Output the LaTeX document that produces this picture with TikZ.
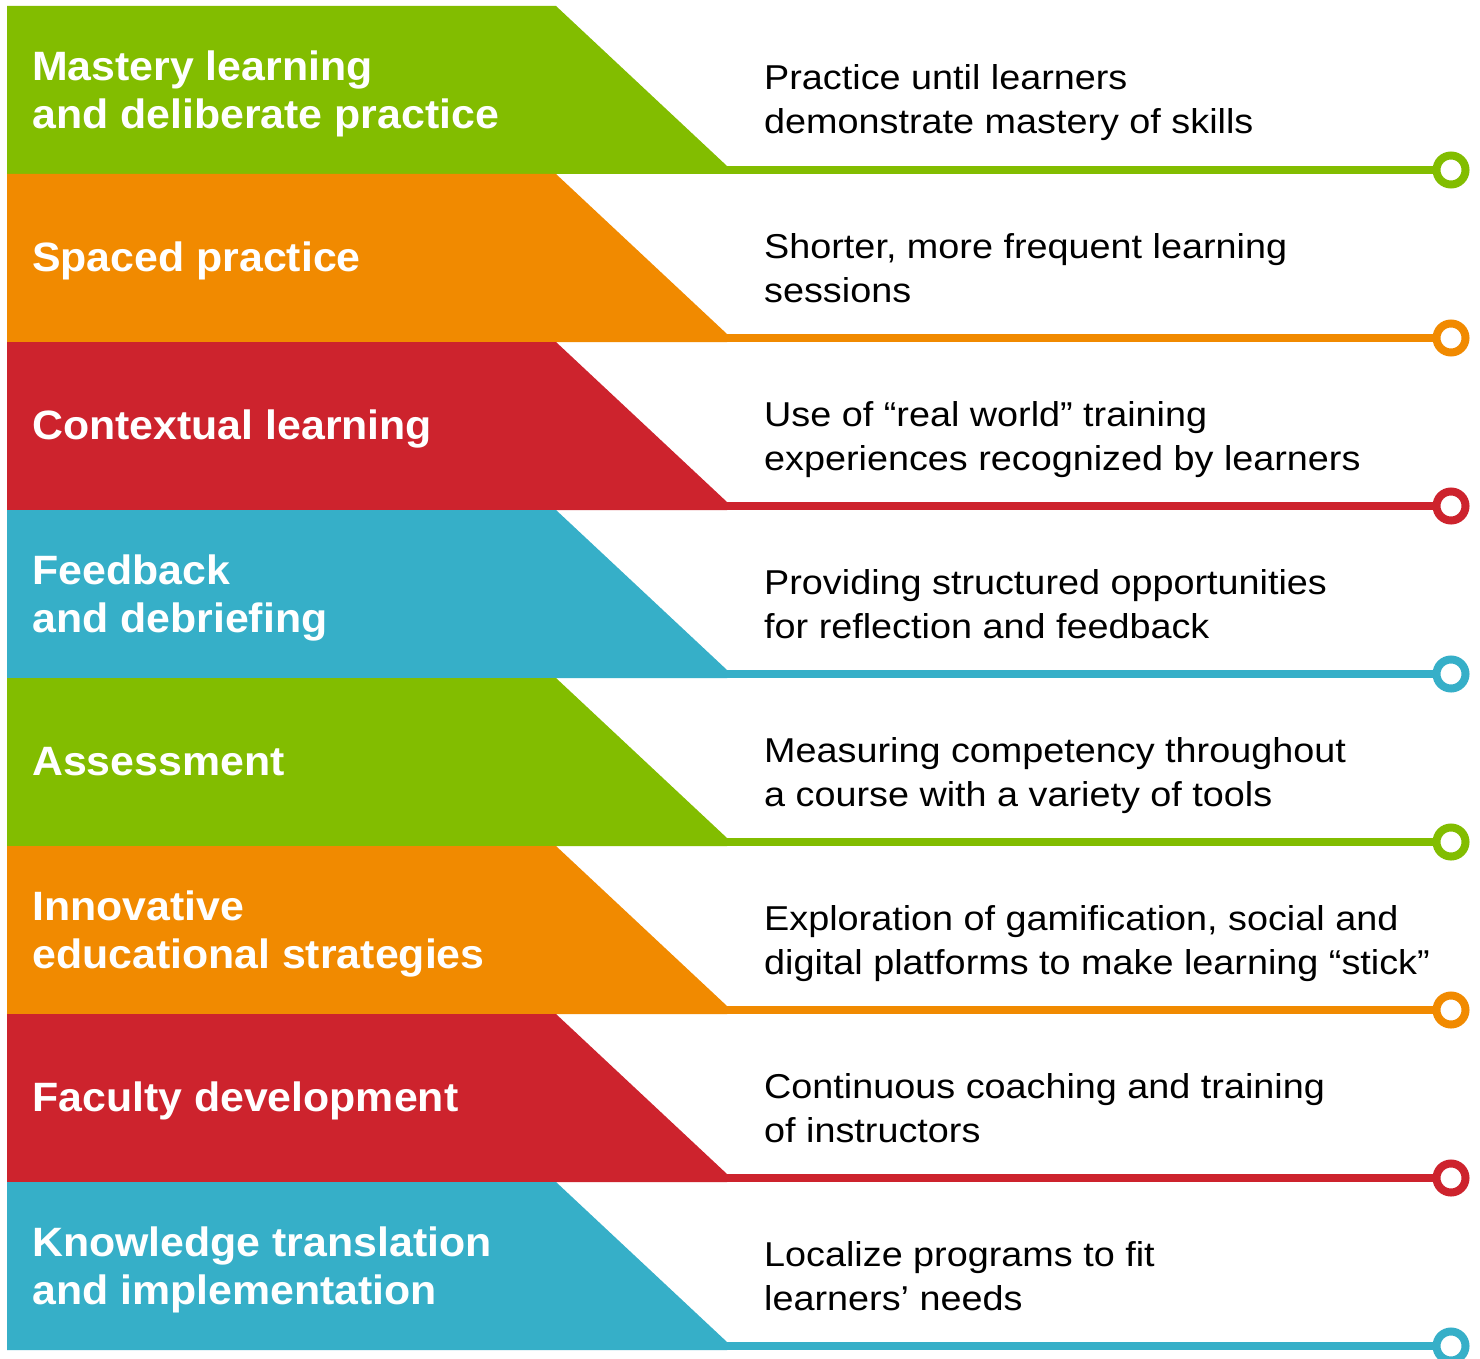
\documentclass[tikz,border=0pt]{standalone}
\usepackage{fontspec}
\setmainfont{Liberation Sans}
\newfontfamily\leftfont{Liberation Sans}[FakeStretch=1.045]
\newfontfamily\rightfont{Liberation Sans}[FakeStretch=1.095]
\definecolor{cgreen}{RGB}{130,189,0}
\definecolor{corange}{RGB}{241,138,0}
\definecolor{cred}{RGB}{205,35,45}
\definecolor{cblue}{RGB}{54,175,200}
\tikzset{
  band/.style={fill=#1, draw=none},
  lefttext/.style={anchor=base west, inner sep=0pt, text=white,
    font=\leftfont\bfseries\fontsize{41}{48}\selectfont},
  righttext/.style={anchor=base west, inner sep=0pt, text=black,
    font=\rightfont\fontsize{34.5}{44}\selectfont},
  rule/.style={draw=#1, line width=7.5pt},
  endring/.style={circle, draw=#1, line width=8pt, fill=white,
    minimum size=29pt, inner sep=0pt},
}
\newcommand\mkrow[5]{%
  \pgfmathsetmacro\rowtop{6+168*(#1-1)}%
  \pgfmathsetmacro\rowbot{\rowtop+168}%
  \fill[band=#2] (7,\rowtop) -- (556,\rowtop) -- (727,\rowbot-8) -- (727,\rowbot) -- (7,\rowbot) -- cycle;
  \node[lefttext] (lab#1) at (32,\rowtop+#3) {\begin{tabular}[t]{@{}l@{}}#4\end{tabular}};
  \node[righttext] (desc#1) at (764,\rowtop+84) {\begin{tabular}[t]{@{}l@{}}#5\end{tabular}};
  \coordinate (start#1) at (720,\rowbot-4);
  \node[endring=#2] (ring#1) at (1451,\rowbot-4) {};
  \draw[rule=#2] (start#1) -- (ring#1);
}
\begin{document}
\begin{tikzpicture}[x=1pt,y=-1pt]
\fill[white] (0,0) rectangle (1480,1359);
\useasboundingbox (0,0) rectangle (1480,1359);
\mkrow{1}{cgreen}{74.5}{Mastery learning\\and deliberate practice}{Practice until learners\\demonstrate mastery of skills}
\mkrow{2}{corange}{97}{Spaced practice}{Shorter, more frequent learning\\sessions}
\mkrow{3}{cred}{97}{Contextual learning}{Use of “real world” training\\experiences recognized by learners}
\mkrow{4}{cblue}{74.5}{Feedback\\and debriefing}{Providing structured opportunities\\for reflection and feedback}
\mkrow{5}{cgreen}{97}{Assessment}{Measuring competency throughout\\a course with a variety of tools}
\mkrow{6}{corange}{74.5}{Innovative\\educational strategies}{Exploration of gamification, social and\\digital platforms to make learning “stick”}
\mkrow{7}{cred}{97}{Faculty development}{Continuous coaching and training\\of instructors}
\mkrow{8}{cblue}{74.5}{Knowledge translation\\and implementation}{Localize programs to fit\\learners’ needs}
\end{tikzpicture}
\end{document}
